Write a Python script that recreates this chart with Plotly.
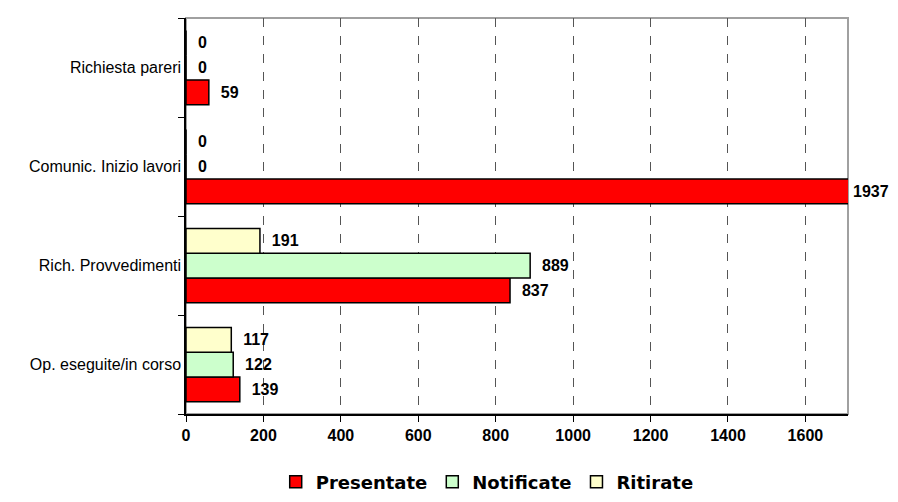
import plotly.graph_objects as go

categories = ["Op. eseguite/in corso", "Rich. Provvedimenti", "Comunic. Inizio lavori", "Richiesta pareri"]
presentate = [139, 837, 1937, 59]
notificate = [122, 889, 0, 0]
ritirate = [117, 191, 0, 0]
x_ticks = [0, 200, 400, 600, 800, 1000, 1200, 1400, 1600]
x_max = 1710

series = [
    ("Presentate", presentate, "#FF0000"),
    ("Notificate", notificate, "#CCFFCC"),
    ("Ritirate", ritirate, "#FFFFCC"),
]
bargap = 0.25
bar_w = (1 - bargap) / len(series)

fig = go.Figure()
for si, (name, vals, color) in enumerate(series):
    shown = [str(v) if v <= x_max else "" for v in vals]
    fig.add_trace(go.Bar(
        y=categories, x=vals, name="<b>" + name + "</b>", orientation="h",
        marker=dict(color=color, line=dict(color="#000000", width=1.5)),
        text=shown, textposition="outside",
        textfont=dict(family="Arial", size=16, color="#000000"),
        texttemplate="\u00a0\u00a0<b>%{text}</b>",
        cliponaxis=False,
    ))
    # labels for bars running past the axis end
    for ci, v in enumerate(vals):
        if v > x_max:
            offset = -(1 - bargap) / 2 + bar_w * (si + 0.5)
            fig.add_annotation(
                xref="paper", x=1, yref="y", y=ci + offset,
                text="<b>%d</b>" % v, showarrow=False,
                xanchor="left", xshift=3,
                font=dict(family="Arial", size=16, color="#000000"),
            )

fig.update_layout(
    barmode="group",
    bargap=bargap,
    bargroupgap=0,
    width=898, height=502,
    margin=dict(l=178, r=58, t=10, b=80),
    paper_bgcolor="white",
    plot_bgcolor="white",
    font=dict(family="Arial", color="#000000"),
    legend=dict(
        orientation="h", x=0.455, xanchor="center", y=-0.125, yanchor="top",
        font=dict(family="DejaVu Sans", size=18, color="#000000"),
        itemwidth=30, traceorder="normal",
    ),
)

fig.update_xaxes(
    range=[0, x_max],
    tickvals=x_ticks,
    ticktext=["<b>%d</b>" % v for v in x_ticks],
    tickfont=dict(family="Arial", size=16, color="#000000"),
    showgrid=True, gridcolor="#555555", griddash="dash", gridwidth=1,
    showline=True, linecolor="#000000", linewidth=1.5,
    ticks="outside", ticklen=6, tickcolor="#000000",
    zeroline=False,
)
fig.update_yaxes(
    tickfont=dict(family="Arial", size=16, color="#000000"),
    showline=True, linecolor="#000000", linewidth=1.5,
    ticks="outside", ticklen=6, tickcolor="#000000",
    tickson="boundaries",
    showgrid=False,
)
fig.add_shape(type="rect", xref="paper", yref="paper", x0=0, y0=0, x1=1, y1=1,
              line=dict(color="#A0A0A0", width=2), layer="below")

fig.write_html("out.html")
